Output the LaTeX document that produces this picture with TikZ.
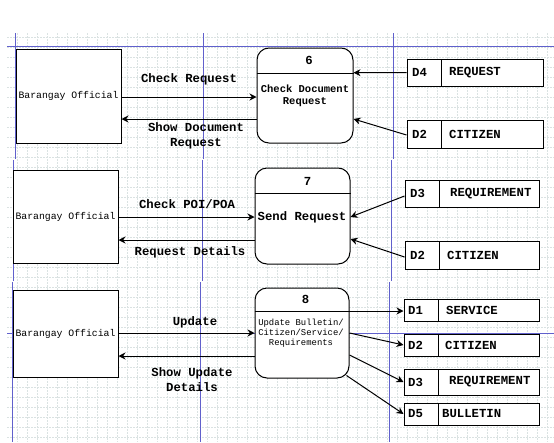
\documentclass[tikz,border=0pt]{standalone}
\usepackage{fontspec}
\newfontfamily\cour{Liberation Mono}
\usetikzlibrary{arrows.meta}
\definecolor{pagebreak}{RGB}{96,96,204}
\definecolor{gridgray}{RGB}{218,226,226}
\tikzset{
  lbl/.style={font=\cour\bfseries\fontsize{12.3}{15}\selectfont, inner sep=0pt, align=center},
  actor/.style={draw, line width=1pt, fill=white, inner sep=0pt,
    font=\cour\fontsize{9.8}{12}\selectfont},
  proc/.style={draw, line width=1pt, fill=white, rounded corners=12pt, inner sep=0pt},
  store/.style={draw, line width=1pt, fill=white, inner sep=0pt},
  flow/.style={line width=1pt, -{Stealth[length=7pt,width=7pt]}},
  divider/.style={line width=1pt},
  brk/.style={draw=pagebreak, line width=0.9pt},
  gridline/.style={draw=gridgray, line width=0.4pt, dash pattern=on 1.5pt off 1.5pt}
}
\begin{document}
\begin{tikzpicture}[x=1pt,y=-1pt]
\useasboundingbox (0,0) rectangle (554,442);
\fill[white] (0,0) rectangle (554,442);

% background grid
\foreach \gx in {17,27,...,547} \draw[gridline] (\gx,33) -- (\gx,442);
\foreach \gy in {37,47,...,437} \draw[gridline] (7,\gy) -- (554,\gy);

% page-break guides
\draw[brk] (7,46) -- (554,46);
\draw[brk] (15,33) -- (15,159);
\draw[brk] (203,33) -- (203,159);
\draw[brk] (393,33) -- (393,159);
\draw[brk] (13,160) -- (13,281);
\draw[brk] (202,160) -- (202,281);
\draw[brk] (391,160) -- (391,281);
\draw[brk] (12,282) -- (12,442);
\draw[brk] (200,282) -- (200,442);
\draw[brk] (389,282) -- (389,442);
\draw[brk] (7,333) -- (554,333);

% ---------- process 6 ----------
\node[actor, minimum width=105pt, minimum height=94pt] (b1) at (68.5,96) {Barangay Official};
\node[proc, minimum width=96pt, minimum height=95pt] (p6) at (305,95.5) {};
\draw[divider] (p6.west |- 0,73) -- (p6.east |- 0,73);
\node[lbl] (n6) at (309,60) {6};
\node[lbl, font=\cour\bfseries\fontsize{10.5}{12.5}\selectfont] (t6) at (305,96) {Check Document\\Request};

\node[store, minimum width=136pt, minimum height=27pt] (s6a) at (475,72.5) {};
\draw[divider] (441,59) -- (441,86);
\node[lbl, anchor=west] (s6aid) at (412,72.5) {D4};
\node[lbl, anchor=west] (s6anm) at (449,72.5) {REQUEST};

\node[store, minimum width=136pt, minimum height=28pt] (s6b) at (475,134) {};
\draw[divider] (441,120) -- (441,148);
\node[lbl, anchor=west] (s6bid) at (412,134) {D2};
\node[lbl, anchor=west] (s6bnm) at (449,134) {CITIZEN};

\draw[flow] (b1.east |- 0,97) -- (p6.west |- 0,97);
\draw[flow] (p6.west |- 0,119) -- (b1.east |- 0,119);
\node[lbl] (e6a) at (189,79) {Check Request};
\node[lbl] (e6b) at (196,135.5) {Show Document\\Request};
\draw[flow] (s6a.west) -- (p6.east |- 0,72.7);
\draw[flow] (s6b.west |- 0,135) -- (p6.east |- 0,119);

% ---------- process 7 ----------
\node[actor, minimum width=105pt, minimum height=93pt] (b2) at (65.5,216.5) {Barangay Official};
\node[proc, minimum width=95pt, minimum height=96pt] (p7) at (302.5,216) {};
\draw[divider] (p7.west |- 0,193) -- (p7.east |- 0,193);
\node[lbl] (n7) at (307.5,181) {7};
\node[lbl] (t7) at (302,217) {Send Request};

\node[store, minimum width=134pt, minimum height=27pt] (s7a) at (472,193.5) {};
\draw[divider] (439,180) -- (439,207);
\node[lbl, anchor=west] (s7aid) at (410,193.5) {D3};
\node[lbl, anchor=west] (s7anm) at (450,193.5) {REQUIREMENT};

\node[store, minimum width=134pt, minimum height=28pt] (s7b) at (472,255) {};
\draw[divider] (439,241) -- (439,269);
\node[lbl, anchor=west] (s7bid) at (410,255) {D2};
\node[lbl, anchor=west] (s7bnm) at (447,255) {CITIZEN};

\draw[flow] (b2.east |- 0,217) -- (p7.west |- 0,217);
\draw[flow] (p7.west |- 0,240) -- (b2.east |- 0,240);
\node[lbl] (e7a) at (187,204) {Check POI/POA};
\node[lbl] (e7b) at (190,252) {Request Details};
\draw[flow] (s7a.west |- 0,196) -- (p7.east |- 0,217);
\draw[flow] (s7b.west |- 0,257) -- (p7.east |- 0,239);

% ---------- process 8 ----------
\node[actor, minimum width=105pt, minimum height=87pt] (b3) at (65.5,333.5) {Barangay Official};
\node[proc, minimum width=94pt, minimum height=90pt] (p8) at (302,333) {};
\draw[divider] (p8.west |- 0,311) -- (p8.east |- 0,311);
\node[lbl] (n8) at (305.5,299.5) {8};
\node[lbl, font=\cour\fontsize{8.9}{10}\selectfont] (t8) at (301,333) {Update Bulletin/\\Citizen/Service/\\Requirements};

\node[store, minimum width=135pt, minimum height=22pt] (s8a) at (471.5,310) {};
\draw[divider] (438,299) -- (438,321);
\node[lbl, anchor=west] (s8aid) at (408,310) {D1};
\node[lbl, anchor=west] (s8anm) at (446,310) {SERVICE};

\node[store, minimum width=135pt, minimum height=22pt] (s8b) at (471.5,345) {};
\draw[divider] (438,334) -- (438,356);
\node[lbl, anchor=west] (s8bid) at (408,345) {D2};
\node[lbl, anchor=west] (s8bnm) at (445,345) {CITIZEN};

\node[store, minimum width=135pt, minimum height=26pt] (s8c) at (471.5,382) {};
\draw[divider] (438,369) -- (438,395);
\node[lbl, anchor=west] (s8cid) at (408,382) {D3};
\node[lbl, anchor=west] (s8cnm) at (449,382) {REQUIREMENT};

\node[store, minimum width=135pt, minimum height=22pt] (s8d) at (471.5,414) {};
\draw[divider] (438,403) -- (438,425);
\node[lbl, anchor=west] (s8did) at (408,414) {D5};
\node[lbl, anchor=west] (s8dnm) at (442,414) {BULLETIN};

\draw[flow] (b3.east |- 0,333) -- (p8.west |- 0,333);
\draw[flow] (p8.west |- 0,356) -- (b3.east |- 0,356);
\node[lbl] (e8a) at (195,322) {Update};
\node[lbl] (e8b) at (192,380) {Show Update\\Details};
\draw[flow] (p8.east |- 0,311) -- (s8a.west |- 0,311);
\draw[flow] (p8.east |- 0,333) -- (s8b.west);
\draw[flow] (p8.east |- 0,355) -- (s8c.west);
\draw[flow] ([shift={(-3,-3)}]p8.south east) -- (s8d.west);
\end{tikzpicture}
\end{document}
